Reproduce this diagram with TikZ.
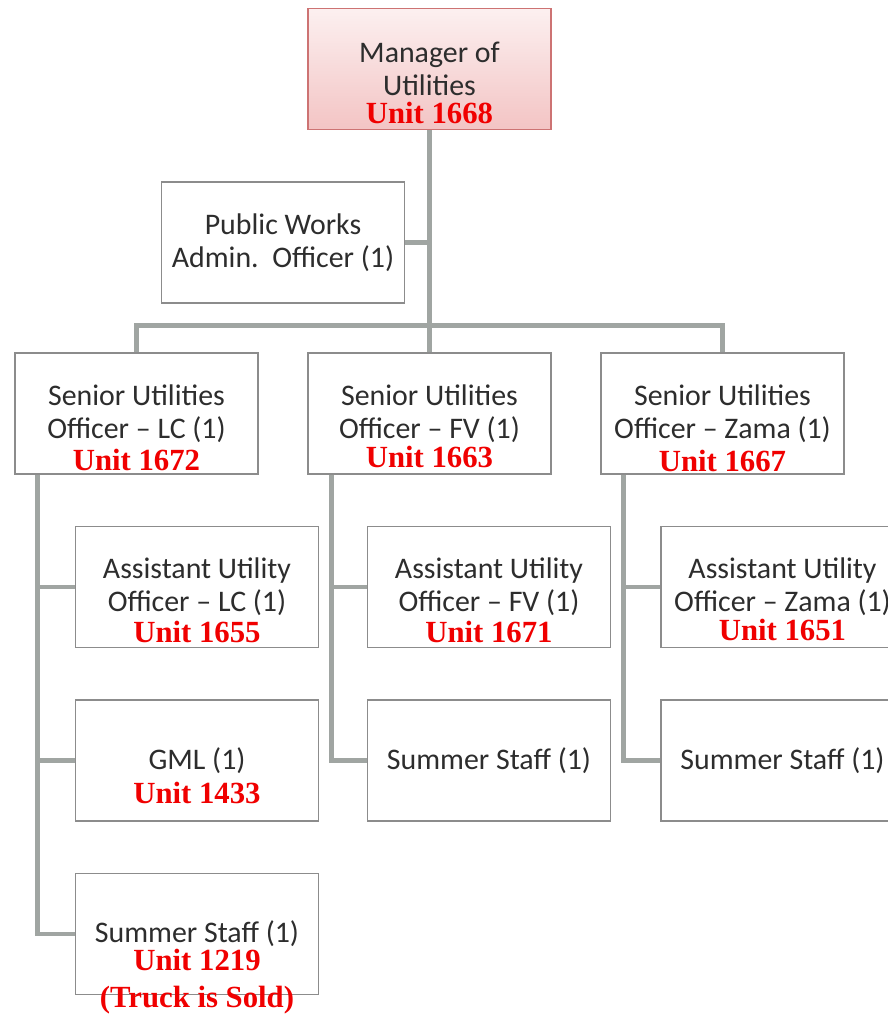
\documentclass[tikz,border=0pt]{standalone}
\usepackage{fontspec}
\setmainfont{Carlito}
\newfontfamily\unitfont{Liberation Serif}
\usetikzlibrary{positioning}
\definecolor{textgray}{RGB}{45,45,45}
\definecolor{boxline}{RGB}{140,140,140}
\definecolor{linkgray}{RGB}{160,165,162}
\definecolor{mgrline}{RGB}{205,115,115}
\definecolor{mgrtop}{RGB}{252,240,240}
\definecolor{mgrbot}{RGB}{243,196,196}
\definecolor{unitred}{RGB}{240,0,0}
\tikzstyle{box} = [rectangle, minimum width=4.86cm, minimum height=2.42cm, align=center, draw=boxline, line width=0.6pt, fill=white, text=textgray, font=\fontsize{17}{18.8}\selectfont]
\tikzstyle{topbox} = [box, draw=mgrline, top color=mgrtop, bottom color=mgrbot]
\tikzstyle{unit} = [text=unitred, align=center, font=\unitfont\bfseries\fontsize{17.5}{21}\selectfont]
\tikzstyle{link} = [draw=linkgray, line width=2.4pt]

\begin{document}
\begin{tikzpicture}[node distance=3.47cm]
\useasboundingbox (-8.59,1.38) rectangle (9.17,-18.96);
\node (mgr) [topbox, label={[unit, yshift=-0.88cm]center:Unit 1668}] {Manager of\\Utilities};
\node (pw) [box, below of=mgr, xshift=-2.93cm] {Public Works\\Admin.\ \ Officer (1)};
\node (sfv) [box, below of=mgr, yshift=-3.42cm, label={[unit, yshift=-0.86cm]center:Unit 1663}] {Senior Utilities\\Officer -- FV (1)};
\node (slc) [box, left of=sfv, xshift=-2.39cm, label={[unit, yshift=-0.92cm]center:Unit 1672}] {Senior Utilities\\Officer -- LC (1)};
\node (sz) [box, right of=sfv, xshift=2.39cm, label={[unit, yshift=-0.95cm]center:Unit 1667}] {Senior Utilities\\Officer -- Zama (1)};

% LC column
\node (alc) [box, below of=slc, xshift=1.21cm, label={[unit, yshift=-0.9cm]center:Unit 1655}] {Assistant Utility\\Officer -- LC (1)};
\node (gml) [box, below of=alc, label={[unit, yshift=-0.64cm]center:Unit 1433}] {GML (1)};
\node (sslc) [box, below of=gml, label={[unit, yshift=-0.95cm]center:Unit 1219\\(Truck is Sold)}] {Summer Staff (1)};

% FV column
\node (afv) [box, below of=sfv, xshift=1.19cm, label={[unit, yshift=-0.9cm]center:Unit 1671}] {Assistant Utility\\Officer -- FV (1)};
\node (ssfv) [box, below of=afv] {Summer Staff (1)};

% Zama column
\node (az) [box, below of=sz, xshift=1.2cm, label={[unit, yshift=-0.86cm]center:Unit 1651}] {Assistant Utility\\Officer -- Zama (1)};
\node (ssz) [box, below of=az] {Summer Staff (1)};

\draw[link] (mgr.south) -- (sfv.north);
\draw[link] (pw.east) -- (pw.east -| mgr.south);
\draw[link] (slc.north) -- ++(0,0.54) -| (sz.north);

\coordinate (lcx) at ([xshift=0.46cm]slc.south west);
\coordinate (fvx) at ([xshift=0.48cm]sfv.south west);
\coordinate (zx) at ([xshift=0.46cm]sz.south west);

\draw[link] (lcx) |- (sslc.west);
\draw[link] (lcx |- alc.west) -- (alc.west);
\draw[link] (lcx |- gml.west) -- (gml.west);
\draw[link] (fvx) |- (ssfv.west);
\draw[link] (fvx |- afv.west) -- (afv.west);
\draw[link] (zx) |- (ssz.west);
\draw[link] (zx |- az.west) -- (az.west);
\end{tikzpicture}
\end{document}
